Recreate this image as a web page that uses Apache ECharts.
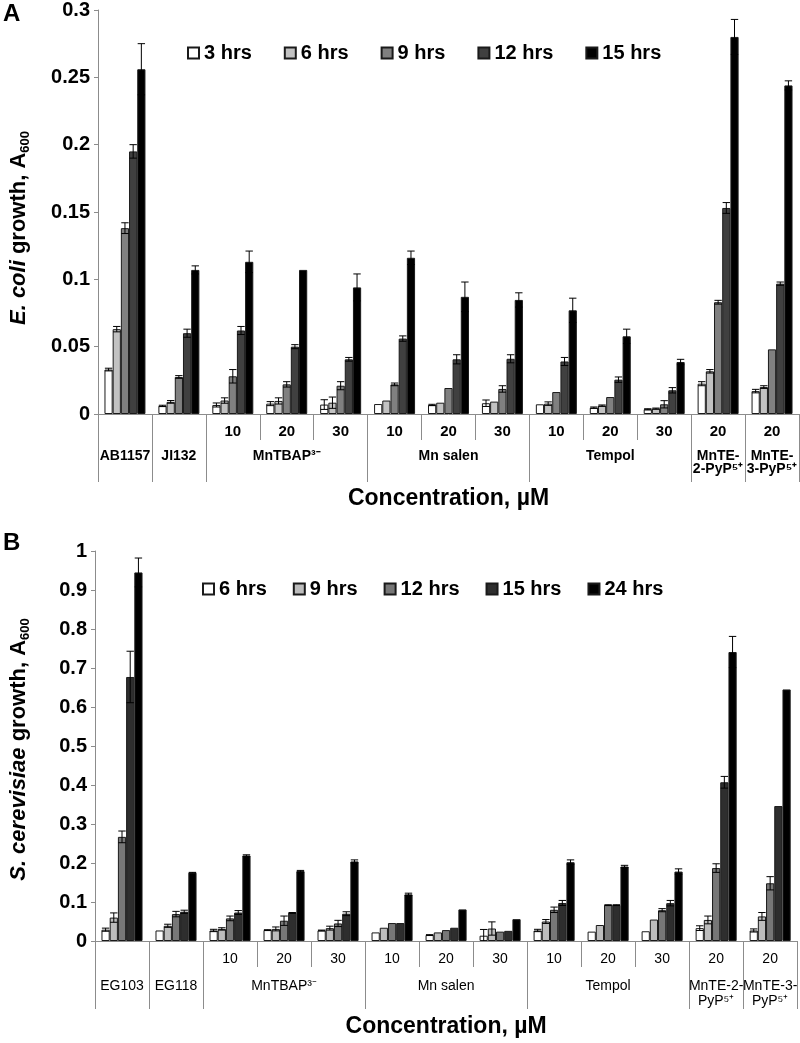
<!DOCTYPE html>
<html><head><meta charset="utf-8">
<script src="https://cdn.jsdelivr.net/npm/echarts@6/dist/echarts.min.js"></script>
<style>
html,body{margin:0;padding:0;background:#fff;}
#a{position:absolute;left:0;top:0;width:800px;height:520px;}
#b{position:absolute;left:0;top:520px;width:800px;height:523px;}
</style>
</head><body><div id="a"></div><div id="b"></div>
<script>
const FONT = '"Liberation Sans", Arial, Helvetica, sans-serif';

// ---------- Panel A : E. coli ----------
const concLabelsA = ['', '', '10', '20', '30', '10', '20', '30', '10', '20', '30', '20', '20'];
const groupLabelsA = ['AB1157', 'JI132', '', 'MnTBAP³⁻', '', '', 'Mn salen', '', '', 'Tempol', '', 'MnTE-\n2-PyP⁵⁺', 'MnTE-\n3-PyP⁵⁺'];
const seriesNamesA = ['3 hrs', '6 hrs', '9 hrs', '12 hrs', '15 hrs'];
const a3h  = [0.033, 0.006, 0.0067, 0.0077, 0.007, 0.0074, 0.0067, 0.008, 0.0072, 0.0047, 0.0035, 0.0225, 0.017];
const a6h  = [0.063, 0.009, 0.010, 0.0097, 0.0084, 0.010, 0.0084, 0.0092, 0.0077, 0.0062, 0.004, 0.0317, 0.020];
const a9h  = [0.138, 0.0275, 0.028, 0.022, 0.021, 0.022, 0.0193, 0.0186, 0.0163, 0.0126, 0.0072, 0.083, 0.048];
const a12h = [0.195, 0.060, 0.062, 0.050, 0.0406, 0.056, 0.0406, 0.041, 0.039, 0.0255, 0.0176, 0.153, 0.0968];
const a15h = [0.256, 0.107, 0.113, 0.107, 0.094, 0.116, 0.087, 0.0847, 0.077, 0.0577, 0.0386, 0.280, 0.244];
const a3hErr  = [0.001, 0.0005, 0.0015, 0.0015, 0.0036, 0, 0.0005, 0.0024, 0, 0.0005, 0.0004, 0.0015, 0.0013];
const a6hErr  = [0.002, 0.001, 0.002, 0.0023, 0.0042, 0, 0, 0, 0.0013, 0.0005, 0.0004, 0.0013, 0.001];
const a9hErr  = [0.004, 0.001, 0.005, 0.002, 0.003, 0.001, 0, 0.0024, 0, 0, 0.0027, 0.0014, 0];
const a12hErr = [0.005, 0.003, 0.003, 0.0015, 0.0014, 0.002, 0.0034, 0.003, 0.003, 0.002, 0.002, 0.004, 0.0012];
const a15hErr = [0.019, 0.003, 0.008, 0, 0.010, 0.005, 0.011, 0.0053, 0.009, 0.0053, 0.002, 0.013, 0.0034];

// ---------- Panel B : S. cerevisiae ----------
const concLabelsB = ['', '', '10', '20', '30', '10', '20', '30', '10', '20', '30', '20', '20'];
const groupLabelsB = ['EG103', 'EG118', '', 'MnTBAP³⁻', '', '', 'Mn salen', '', '', 'Tempol', '', 'MnTE-2-\nPyP⁵⁺', 'MnTE-3-\nPyP⁵⁺'];
const seriesNamesB = ['6 hrs', '9 hrs', '12 hrs', '15 hrs', '24 hrs'];
const b6h  = [0.029, 0.027, 0.027, 0.028, 0.027, 0.022, 0.0153, 0.0136, 0.027, 0.024, 0.025, 0.033, 0.027];
const b9h  = [0.060, 0.039, 0.031, 0.031, 0.033, 0.034, 0.022, 0.032, 0.050, 0.041, 0.055, 0.054, 0.063];
const b12h = [0.267, 0.069, 0.058, 0.052, 0.045, 0.046, 0.028, 0.024, 0.080, 0.092, 0.079, 0.187, 0.148];
const b15h = [0.677, 0.075, 0.073, 0.072, 0.070, 0.046, 0.034, 0.026, 0.0975, 0.092, 0.097, 0.407, 0.346];
const b24h = [0.945, 0.175, 0.219, 0.179, 0.204, 0.1196, 0.081, 0.056, 0.202, 0.191, 0.178, 0.741, 0.645];
const b6hErr  = [0.004, 0, 0.003, 0.001, 0.001, 0, 0.001, 0.016, 0.003, 0, 0, 0.006, 0.004];
const b9hErr  = [0.012, 0.004, 0.003, 0.005, 0.005, 0, 0, 0.017, 0.005, 0, 0, 0.010, 0.010];
const b12hErr = [0.015, 0.007, 0.006, 0.012, 0.008, 0, 0, 0, 0.007, 0.001, 0.004, 0.011, 0.017];
const b15hErr = [0.066, 0.004, 0.005, 0.001, 0.005, 0, 0, 0, 0.0065, 0.001, 0.007, 0.015, 0];
const b24hErr = [0.037, 0.001, 0.002, 0.002, 0.004, 0.003, 0, 0, 0.006, 0.003, 0.007, 0.040, 0];

const groupStarts = [0, 1, 2, 5, 8, 11, 12];
const GAP = 0.24;

function makeErr(k, n) {
  return function (params, api) {
    const ci = api.value(0), v = api.value(1), e = api.value(2);
    if (!e) return null;
    const band = api.size([1, 0])[0];
    const bw = band * (1 - GAP) / n;
    const cx = api.coord([ci, v])[0] + (k - (n - 1) / 2) * bw;
    const yT = api.coord([ci, v + e])[1];
    const lo = v - e;
    const yB = api.coord([ci, Math.max(lo, 0)])[1];
    const hw = bw * 0.45;
    const st = { stroke: '#000', lineWidth: 1 };
    const ch = [
      { type: 'line', shape: { x1: cx, y1: yT, x2: cx, y2: yB }, style: st },
      { type: 'line', shape: { x1: cx - hw, y1: yT, x2: cx + hw, y2: yT }, style: st }
    ];
    if (lo >= 0) ch.push({ type: 'line', shape: { x1: cx - hw, y1: yB, x2: cx + hw, y2: yB }, style: st });
    return { type: 'group', children: ch };
  };
}

function build(cfg) {
  const series = [];
  const n = cfg.names.length;
  cfg.names.forEach((name, k) => {
    series.push({
      type: 'bar', name: name, xAxisIndex: 0, yAxisIndex: 0, data: cfg.values[k],
      barGap: '0%', barCategoryGap: (GAP * 100) + '%',
      itemStyle: { color: cfg.colors[k], borderColor: '#1a1a1a', borderWidth: 1 },
      emphasis: { disabled: true }, z: 2, animation: false
    });
  });
  cfg.names.forEach((name, k) => {
    series.push({
      type: 'custom', name: name + ' error', xAxisIndex: 0, yAxisIndex: 0, z: 3, silent: true, clip: false,
      animation: false,
      data: cfg.values[k].map((v, i) => [i, v, cfg.errors[k][i]]),
      encode: { x: 0, y: 1 },
      renderItem: makeErr(k, n)
    });
  });
  const axisGray = '#8c8c8c';
  return {
    animation: false,
    backgroundColor: '#fff',
    textStyle: { fontFamily: FONT },
    graphic: [{ type: 'text', left: cfg.letterPos[0], top: cfg.letterPos[1], style: { text: cfg.letter, font: 'bold 24px ' + FONT, fill: '#000' } }],
    legend: {
      data: cfg.names, left: cfg.legendLeft, top: cfg.legendTop, itemWidth: 11, itemHeight: 11,
      itemGap: cfg.legendGap, icon: 'rect', selectedMode: false, textStyle: { fontSize: 20, fontWeight: 'bold', color: '#000', fontFamily: FONT }
    },
    grid: { left: cfg.grid[0], top: cfg.grid[1], right: cfg.grid[2], bottom: cfg.grid[3], containLabel: false },
    xAxis: [
      {
        type: 'category', position: 'bottom', data: cfg.conc,
        axisLine: { show: true, lineStyle: { color: axisGray } },
        axisTick: { show: true, length: 26, interval: 0, lineStyle: { color: axisGray } },
        axisLabel: { interval: 0, margin: cfg.concMargin, fontSize: cfg.concFont, fontWeight: cfg.labelWeight, color: '#000', fontFamily: FONT },
        name: 'Concentration, µM', nameLocation: 'middle', nameGap: cfg.xNameGap,
        nameTextStyle: { fontSize: 23, fontWeight: 'bold', color: '#000', fontFamily: FONT }
      },
      {
        type: 'category', position: 'bottom', data: cfg.groups, offset: 0,
        axisLine: { show: false },
        axisTick: { show: true, length: 68, interval: (idx) => groupStarts.includes(idx), lineStyle: { color: axisGray } },
        axisLabel: { interval: 0, margin: cfg.groupMargin, fontSize: 14, lineHeight: cfg.groupLH, fontWeight: cfg.labelWeight, color: '#000', fontFamily: FONT }
      }
    ],
    yAxis: {
      type: 'value', min: 0, max: cfg.ymax, interval: cfg.yint,
      axisLine: { show: true, lineStyle: { color: axisGray } },
      axisTick: { show: true, length: 4, lineStyle: { color: axisGray } },
      splitLine: { show: false },
      axisLabel: { fontSize: 20, fontWeight: 'bold', color: '#000', fontFamily: FONT, margin: 8 },
      name: cfg.yName, nameLocation: 'middle', nameGap: cfg.yNameGap, nameRotate: 90,
      nameTextStyle: {
        color: '#000', padding: cfg.yNamePad,
        rich: {
          it: { fontStyle: 'italic', fontWeight: 'bold', fontSize: 22, fontFamily: FONT, color: '#000', lineHeight: 26 },
          n: { fontWeight: 'bold', fontSize: 22, fontFamily: FONT, color: '#000', lineHeight: 26 },
          sub: { fontWeight: 'bold', fontSize: 13, fontFamily: FONT, color: '#000', verticalAlign: 'bottom', lineHeight: 26 }
        }
      }
    },
    series: series
  };
}

const chartA = echarts.init(document.getElementById('a'), null, { renderer: 'canvas' });
chartA.setOption(build({
  letter: 'A', letterPos: [3, 2],
  names: seriesNamesA,
  values: [a3h, a6h, a9h, a12h, a15h],
  errors: [a3hErr, a6hErr, a9hErr, a12hErr, a15hErr],
  colors: ['#ffffff', '#c2c2c2', '#808080', '#404040', '#000000'],
  conc: concLabelsA, groups: groupLabelsA,
  concFont: 15, labelWeight: 'bold', groupLH: 13, concMargin: 10, groupMargin: 36,
  grid: [90, 10, 1, 106],
  legendLeft: 182, legendTop: 38, legendGap: 32,
  ymax: 0.3, yint: 0.05,
  yName: '{it|E. coli}{n| growth, A}{sub|600}', yNameGap: 66, yNamePad: [0, 32, 0, 0],
  xNameGap: 73
}));

const chartB = echarts.init(document.getElementById('b'), null, { renderer: 'canvas' });
chartB.setOption(build({
  letter: 'B', letterPos: [3, 11],
  names: seriesNamesB,
  values: [b6h, b9h, b12h, b15h, b24h],
  errors: [b6hErr, b9hErr, b12hErr, b15hErr, b24hErr],
  colors: ['#ffffff', '#bdbdbd', '#777777', '#2e2e2e', '#000000'],
  conc: concLabelsB, groups: groupLabelsB,
  concFont: 14, labelWeight: 'normal', groupLH: 15, concMargin: 11, groupMargin: 38,
  grid: [87, 31, 1, 99],
  legendLeft: 197, legendTop: 54, legendGap: 26,
  ymax: 1, yint: 0.1,
  yName: '{it|S. cerevisiae}{n| growth, A}{sub|600}', yNameGap: 63, yNamePad: [0, 7, 0, 0],
  xNameGap: 74
}));
</script>
</body></html>
